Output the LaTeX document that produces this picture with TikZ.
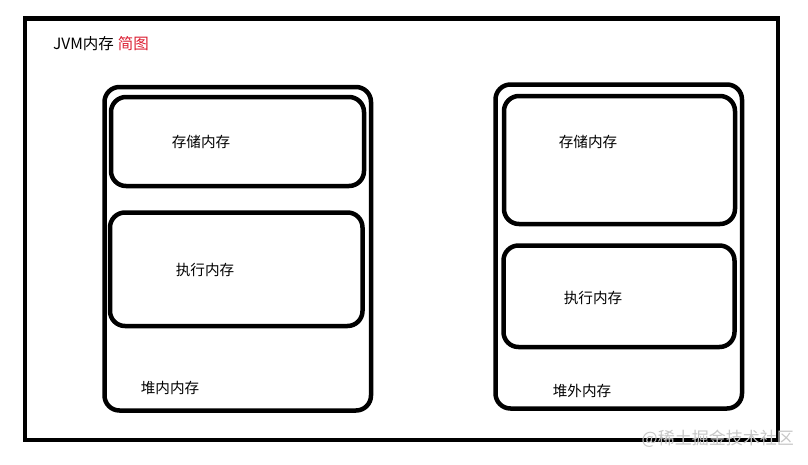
\documentclass[tikz,border=0pt]{standalone}
\usepackage{fontspec}
\setmainfont{Noto Sans CJK SC}
\begin{document}
\begin{tikzpicture}[x=1pt,y=-1pt,
  frame/.style={draw=black,line width=4.5pt},
  box/.style={draw=black,line width=4.5pt,rounded corners=15pt},
  lbl/.style={font=\fontsize{14.6}{17}\selectfont,inner sep=0pt}]
\useasboundingbox (0,0) rectangle (808,464);
\fill[white] (0,0) rectangle (808,464);
\draw[frame] (25,18.5) rectangle (778,440);
\node[lbl,anchor=west,font=\fontsize{15.5}{18}\selectfont] (title) at (53,44) {JVM内存\hspace{4pt}\textcolor[RGB]{220,30,50}{简图}};
% left
\draw[box] (104.5,87) rectangle (371,410.5);
\draw[box] (111,97) rectangle (364,186);
\draw[box] (110,212.5) rectangle (362.5,326);
\node[lbl] (ls) at (201,142) {存储内存};
\node[lbl] (le) at (205,270) {执行内存};
\node[lbl] (lh) at (170,388) {堆内内存};
% right
\draw[box] (495.5,84.5) rectangle (742,408.5);
\draw[box] (504,96) rectangle (735,224);
\draw[box] (503.5,245.5) rectangle (734.5,347);
\node[lbl] (rs) at (588,142) {存储内存};
\node[lbl] (re) at (593,298) {执行内存};
\node[lbl] (rh) at (582,391) {堆外内存};
\node[font=\fontsize{17}{19}\selectfont,inner sep=0pt,text=black!22,anchor=east] (wm) at (794,439) {@稀土掘金技术社区};
\end{tikzpicture}
\end{document}
